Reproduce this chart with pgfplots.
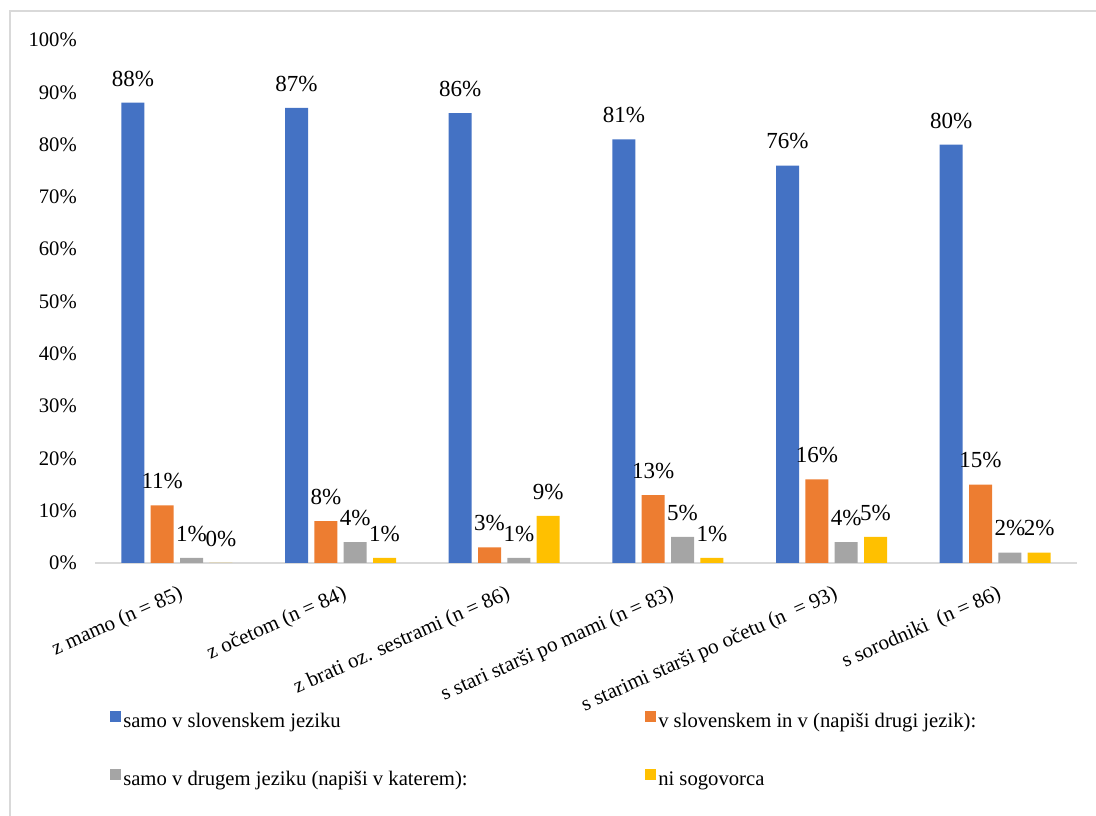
\documentclass[border=0pt]{standalone}
\usepackage{fontspec}
\setmainfont{Liberation Serif}
\usepackage{pgfplots}
\pgfplotsset{compat=1.18}

\definecolor{cblue}{HTML}{4472C4}
\definecolor{corange}{HTML}{ED7D31}
\definecolor{cgray}{HTML}{A5A5A5}
\definecolor{cyellow}{HTML}{FFC000}
\definecolor{axgray}{HTML}{D9D9D9}

\newcommand{\ticksize}{\fontsize{15.5}{18}\selectfont}
\newcommand{\catsize}{\fontsize{15.8}{18}\selectfont}
\newcommand{\labsize}{\fontsize{17.25}{20}\selectfont}

\begin{document}
\begin{tikzpicture}
\useasboundingbox (0,0) rectangle (822pt,612pt);
% chart frame
\draw[axgray, line width=1.1pt] (7.5pt,0) -- (7.5pt,603.75pt) -- (822pt,603.75pt);
\begin{axis}[
  at={(71.25pt,189.75pt)}, anchor=south west,
  scale only axis, width=736.5pt, height=392.25pt,
  xmin=-0.5, xmax=5.5, ymin=0, ymax=100,
  clip=false,
  ybar=4.75pt, bar width=17.25pt,
  axis x line*=bottom, axis y line*=left,
  x axis line style={-, draw=axgray, line width=1.5pt},
  y axis line style={draw=none},
  major tick length=0pt, tick style={draw=none},
  /pgf/number format/assume math mode=true,
  ytick={0,10,...,100},
  yticklabels={0\%,10\%,20\%,30\%,40\%,50\%,60\%,70\%,80\%,90\%,100\%},
  yticklabel style={anchor=east, inner sep=0pt, xshift=-13.5pt, font=\ticksize},
  xtick={0,1,2,3,4,5},
  xticklabels={
    {z mamo (n = 85)},
    {z očetom (n = 84)},
    {z brati oz. sestrami (n = 86)},
    {s stari starši po mami (n = 83)},
    {s starimi starši po očetu (n\ \ = 93)},
    {s sorodniki\ \ (n = 86)}},
  xticklabel style={rotate=24, anchor=north east, inner sep=0pt,
    xshift=-5.75pt, yshift=-15pt, font=\catsize},
  nodes near coords={\pgfmathprintnumber{\pgfplotspointmeta}\%},
  every node near coord/.append style={font=\labsize, anchor=south,
    inner sep=0pt, yshift=12pt, text=black},
  legend columns=2,
  legend cell align=left,
  legend image code/.code={\fill[#1] (0pt,0.75pt) rectangle (8.25pt,9pt);},
  legend style={draw=none, fill=none, inner sep=0pt,
    at={(0.01527,-0.2817)}, anchor=north west,
    font=\ticksize, row sep=27pt,
    nodes={inner sep=0pt, text height=11pt, text depth=4pt},
    /tikz/every odd column/.append style={column sep=1.5pt},
    /tikz/every even column/.append style={column sep=0pt}},
]
\addplot[fill=cblue, draw=none] coordinates {(0,88) (1,87) (2,86) (3,81) (4,76) (5,80)};
\addplot[fill=corange, draw=none] coordinates {(0,11) (1,8) (2,3) (3,13) (4,16) (5,15)};
\addplot[fill=cgray, draw=none] coordinates {(0,1) (1,4) (2,1) (3,5) (4,4) (5,2)};
\addplot[fill=cyellow, draw=none] coordinates {(0,0) (1,1) (2,9) (3,1) (4,5) (5,2)};
\addlegendentry{\makebox[391.5pt][l]{samo v slovenskem jeziku}}
\addlegendentry{v slovenskem in v (napiši drugi jezik):}
\addlegendentry{\makebox[391.5pt][l]{samo v drugem jeziku (napiši v katerem):}}
\addlegendentry{ni sogovorca}
\end{axis}
\end{tikzpicture}
\end{document}
